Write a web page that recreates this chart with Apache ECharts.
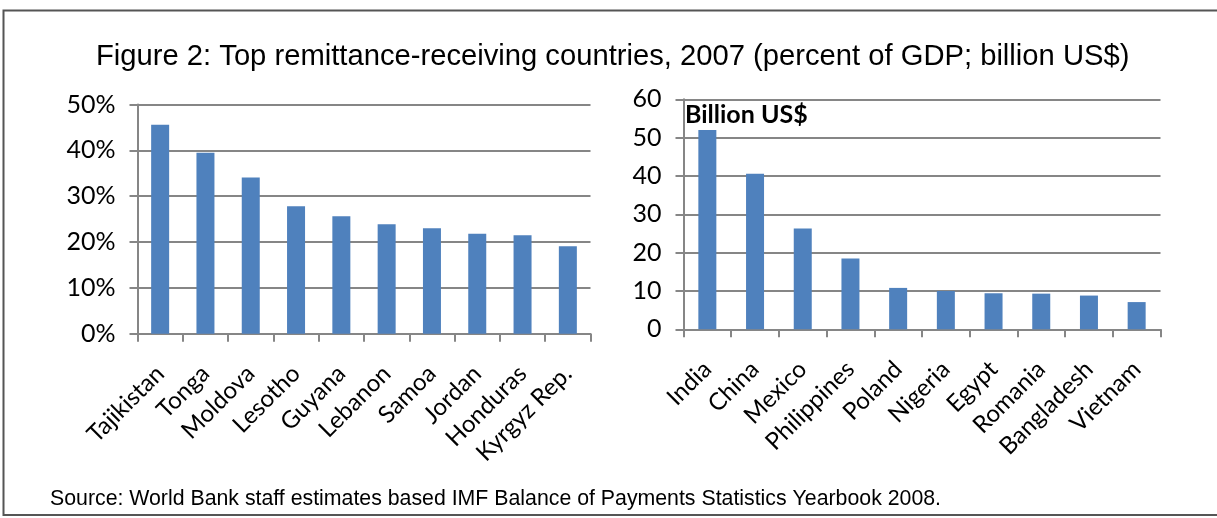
<!DOCTYPE html>
<html>
<head>
<meta charset="utf-8">
<style>
  html, body { margin: 0; padding: 0; background: #fff; }
  #chart { width: 1217px; height: 518px; }
</style>
<script src="https://cdn.jsdelivr.net/npm/echarts@6/dist/echarts.min.js"></script>
</head>
<body>
<div id="chart"></div>
<script>
// remittances as percent of GDP
var gdpCountries = ['Tajikistan', 'Tonga', 'Moldova', 'Lesotho', 'Guyana', 'Lebanon', 'Samoa', 'Jordan', 'Honduras', 'Kyrgyz Rep.'];
var gdpShare = [45.6, 39.5, 34.1, 27.8, 25.6, 23.9, 23.0, 21.8, 21.5, 19.1];

// remittances in billion US$
var usdCountries = ['India', 'China', 'Mexico', 'Philippines', 'Poland', 'Nigeria', 'Egypt', 'Romania', 'Bangladesh', 'Vietnam'];
var usdBillions = [52.0, 40.6, 26.3, 18.5, 10.8, 10.0, 9.4, 9.3, 8.8, 7.1];

var gridGrey = '#868686';
var barBlue = '#4F81BD';
var labelFont = 'Lato';

function catAxis(idx, cats) {
  return {
    type: 'category',
    gridIndex: idx,
    data: cats,
    axisLine: { lineStyle: { color: gridGrey, width: 2 } },
    axisTick: { show: true, length: 8, lineStyle: { color: gridGrey, width: 2 } },
    axisLabel: {
      interval: 0,
      rotate: 45,
      margin: 36,
      color: '#000',
      fontFamily: labelFont,
      fontSize: 24
    }
  };
}

function valAxis(idx, max, fmt) {
  return {
    type: 'value',
    gridIndex: idx,
    min: 0,
    max: max,
    interval: 10,
    axisLine: { show: true, lineStyle: { color: gridGrey, width: 2 } },
    axisTick: { show: true, length: 8, lineStyle: { color: gridGrey, width: 2 } },
    splitLine: { lineStyle: { color: gridGrey, width: 2 } },
    axisLabel: {
      formatter: fmt,
      margin: 22,
      color: '#000',
      fontFamily: labelFont,
      fontSize: 25
    }
  };
}

var chart = echarts.init(document.getElementById('chart'));
chart.setOption({
  animation: false,
  title: [{
    text: 'Figure 2: Top remittance-receiving countries, 2007 (percent of GDP; billion US$)',
    left: 91,
    top: 37,
    textStyle: { fontFamily: 'Liberation Sans', fontSize: 29.2, fontWeight: 'normal', color: '#000' }
  }, {
    text: 'Source: World Bank staff estimates based IMF Balance of Payments Statistics Yearbook 2008.',
    left: 45,
    top: 484,
    textStyle: { fontFamily: 'Liberation Sans', fontSize: 21.3, fontWeight: 'normal', color: '#000' }
  }],
  grid: [
    { left: 137.5, top: 104.5, width: 453, height: 229.2 },
    { left: 683.5, top: 99.3, width: 477, height: 230 }
  ],
  xAxis: [catAxis(0, gdpCountries), catAxis(1, usdCountries)],
  yAxis: [valAxis(0, 50, '{value}%'), valAxis(1, 60, '{value}')],
  series: [{
    type: 'bar',
    xAxisIndex: 0,
    yAxisIndex: 0,
    data: gdpShare,
    barWidth: 18,
    itemStyle: { color: barBlue }
  }, {
    type: 'bar',
    xAxisIndex: 1,
    yAxisIndex: 1,
    data: usdBillions,
    barWidth: 18,
    itemStyle: { color: barBlue }
  }],
  graphic: [{
    type: 'polyline',
    shape: { points: [[1217, 10.5], [3.5, 10.5], [3.5, 515], [1217, 515]] },
    style: { stroke: '#555', lineWidth: 2, fill: null }
  }, {
    type: 'text',
    left: 685,
    top: 102,
    style: { text: 'Billion US$', font: 'bold 25px Lato', fill: '#000' }
  }]
});
</script>
</body>
</html>
